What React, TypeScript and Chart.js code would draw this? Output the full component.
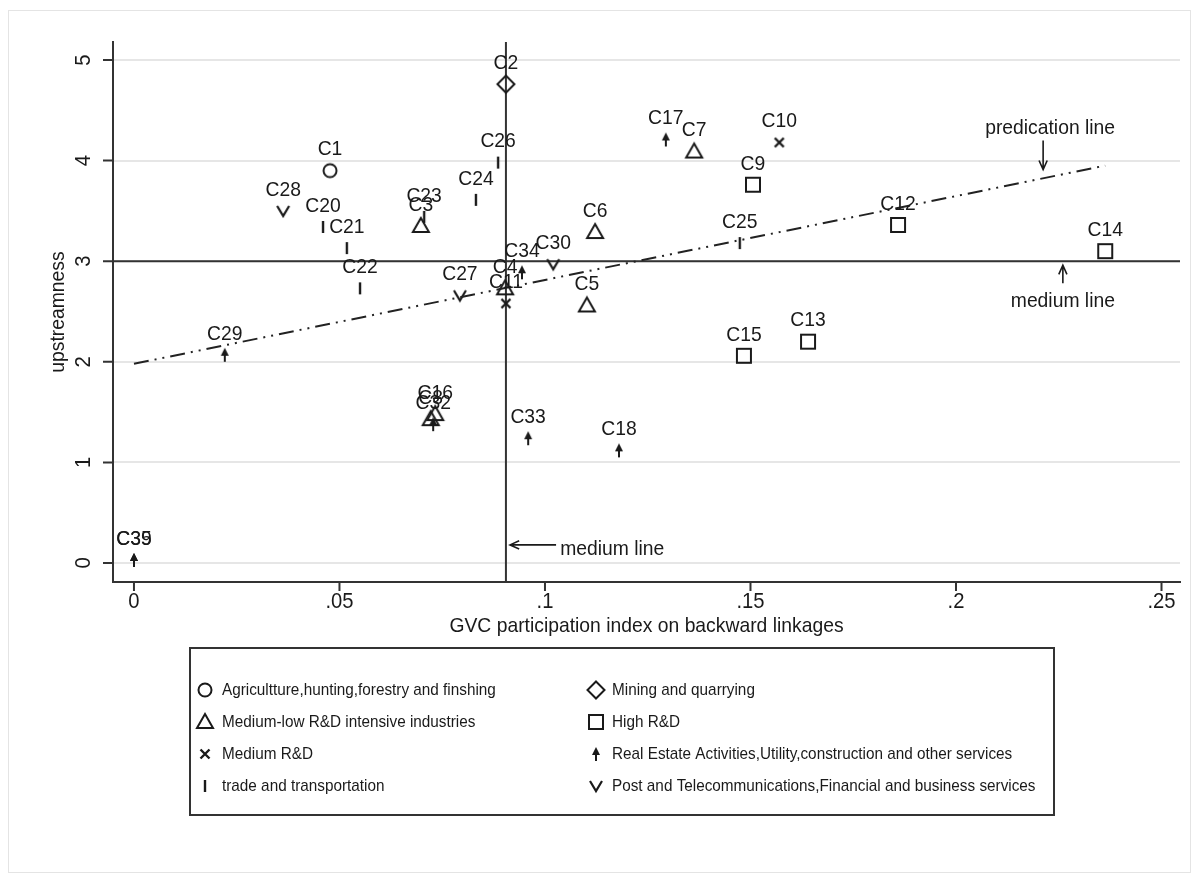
import React, { useEffect, useRef } from 'react';
import { Chart, registerables } from 'chart.js';

Chart.register(...registerables);

// ---------------- data ----------------
const agriLabels = ['C1'];
const agriX = [0.0477];
const agriY = [3.9];

const miningLabels = ['C2'];
const miningX = [0.0905];
const miningY = [4.76];

const medLowLabels = ['C3', 'C4', 'C5', 'C6', 'C7', 'C8', 'C16'];
const medLowX = [0.0698, 0.0903, 0.1102, 0.1122, 0.1363, 0.0722, 0.0733];
const medLowY = [3.35, 2.73, 2.56, 3.29, 4.09, 1.43, 1.48];

const highLabels = ['C9', 'C12', 'C13', 'C14', 'C15'];
const highX = [0.1506, 0.1859, 0.164, 0.2363, 0.1484];
const highY = [3.76, 3.36, 2.2, 3.1, 2.06];

const mediumLabels = ['C10', 'C11'];
const mediumXs = [0.157, 0.0905];
const mediumYs = [4.18, 2.58];

const realLabels = ['C17', 'C18', 'C29', 'C32', 'C33', 'C34', 'C35', 'C39'];
const realX = [0.1294, 0.118, 0.0221, 0.0728, 0.0959, 0.0944, 0, 0];
const realY = [4.21, 1.12, 2.07, 1.38, 1.24, 2.89, 0.03, 0.03];

const tradeLabels = ['C20', 'C21', 'C22', 'C23', 'C24', 'C25', 'C26'];
const tradeX = [0.046, 0.0518, 0.055, 0.0706, 0.0832, 0.1474, 0.0886];
const tradeY = [3.34, 3.13, 2.73, 3.44, 3.61, 3.18, 3.98];

const postLabels = ['C27', 'C28', 'C30'];
const postX = [0.0793, 0.0363, 0.102];
const postY = [2.66, 3.5, 2.97];

const predX = [0, 0.2363];
const predY = [1.98, 3.95];

const medianX = 0.0905;
const medianY = 3;

const xTicks = [0, 0.05, 0.1, 0.15, 0.2, 0.25];
const xTickLabels = ['0', '.05', '.1', '.15', '.2', '.25'];
const yTicks = [0, 1, 2, 3, 4, 5];
const yTickLabels = ['0', '1', '2', '3', '4', '5'];

const xTitle = 'GVC participation index on backward linkages';
const yTitle = 'upstreamness';

const legendNames = [
  'Agricultture,hunting,forestry and finshing',
  'Mining and quarrying',
  'Medium-low R&D intensive industries',
  'High R&D',
  'Medium R&D',
  'Real Estate Activities,Utility,construction and other services',
  'trade and transportation',
  'Post and Telecommunications,Financial and business services',
];
const legendKinds = ['circle', 'diamond', 'triangle', 'square', 'x', 'arrow', 'bar', 'v'];

// annotations: [text, textX, textY, arrowFromX, arrowFromY, arrowToX, arrowToY, align]
const annPred = ['predication line', 0.2229, 4.32, 0.2212, 4.2, 0.2212, 3.91, 'center'];
const annMedR = ['medium line', 0.226, 2.6, 0.226, 2.78, 0.226, 2.96, 'center'];
const annMedB = ['medium line', 0.1037, 0.14, 0.1027, 0.18, 0.0915, 0.18, 'left'];

// ---------------- drawing helpers ----------------
const INK = '#1a1a1a';
const FONT = '"Liberation Sans", Arial, sans-serif';

function drawMarker(ctx: CanvasRenderingContext2D, kind: string, cx: number, cy: number) {
  ctx.save();
  ctx.strokeStyle = INK;
  ctx.fillStyle = INK;
  ctx.lineWidth = 2;
  ctx.lineJoin = 'miter';
  ctx.beginPath();
  if (kind === 'circle') {
    ctx.arc(cx, cy, 6.5, 0, Math.PI * 2);
    ctx.stroke();
  } else if (kind === 'diamond') {
    ctx.moveTo(cx, cy - 8.5);
    ctx.lineTo(cx + 8.5, cy);
    ctx.lineTo(cx, cy + 8.5);
    ctx.lineTo(cx - 8.5, cy);
    ctx.closePath();
    ctx.stroke();
  } else if (kind === 'triangle') {
    ctx.moveTo(cx, cy - 8);
    ctx.lineTo(cx + 8, cy + 6);
    ctx.lineTo(cx - 8, cy + 6);
    ctx.closePath();
    ctx.stroke();
  } else if (kind === 'square') {
    ctx.rect(cx - 7, cy - 7, 14, 14);
    ctx.stroke();
  } else if (kind === 'x') {
    ctx.lineWidth = 2.4;
    ctx.moveTo(cx - 4.5, cy - 4.5);
    ctx.lineTo(cx + 4.5, cy + 4.5);
    ctx.moveTo(cx + 4.5, cy - 4.5);
    ctx.lineTo(cx - 4.5, cy + 4.5);
    ctx.stroke();
  } else if (kind === 'arrow') {
    ctx.moveTo(cx, cy - 7);
    ctx.lineTo(cx + 4, cy + 1);
    ctx.lineTo(cx - 4, cy + 1);
    ctx.closePath();
    ctx.fill();
    ctx.beginPath();
    ctx.lineWidth = 2;
    ctx.moveTo(cx, cy);
    ctx.lineTo(cx, cy + 7);
    ctx.stroke();
  } else if (kind === 'bar') {
    ctx.lineWidth = 2.4;
    ctx.moveTo(cx, cy - 6);
    ctx.lineTo(cx, cy + 6);
    ctx.stroke();
  } else if (kind === 'v') {
    ctx.lineWidth = 2.2;
    ctx.moveTo(cx - 6, cy - 5);
    ctx.lineTo(cx, cy + 5);
    ctx.lineTo(cx + 6, cy - 5);
    ctx.stroke();
  }
  ctx.restore();
}

function makeMarker(kind: string): HTMLCanvasElement {
  const c = document.createElement('canvas');
  c.width = 24;
  c.height = 24;
  const ctx = c.getContext('2d')!;
  drawMarker(ctx, kind, 12, 12);
  return c;
}

function txt(
  ctx: CanvasRenderingContext2D,
  s: string,
  x: number,
  y: number,
  size: number,
  align: CanvasTextAlign = 'center',
  rot = 0,
  sx = 0.92
) {
  ctx.save();
  ctx.translate(x, y);
  ctx.rotate(rot);
  ctx.scale(sx, 1);
  ctx.font = `${size}px ${FONT}`;
  ctx.textAlign = align;
  ctx.textBaseline = 'middle';
  ctx.fillStyle = INK;
  ctx.fillText(s, 0, 0);
  ctx.restore();
}

function arrow(ctx: CanvasRenderingContext2D, x1: number, y1: number, x2: number, y2: number) {
  const a = Math.atan2(y2 - y1, x2 - x1);
  const L = 10;
  const w = 0.42;
  ctx.save();
  ctx.strokeStyle = INK;
  ctx.lineWidth = 1.6;
  ctx.beginPath();
  ctx.moveTo(x1, y1);
  ctx.lineTo(x2, y2);
  ctx.moveTo(x2 - L * Math.cos(a - w), y2 - L * Math.sin(a - w));
  ctx.lineTo(x2, y2);
  ctx.lineTo(x2 - L * Math.cos(a + w), y2 - L * Math.sin(a + w));
  ctx.stroke();
  ctx.restore();
}

const pts = (xs: number[], ys: number[]) => xs.map((x, i) => ({ x, y: ys[i] }));

const decorPlugin = {
  id: 'decor',
  beforeDatasetsDraw(chart: any) {
    const { ctx, chartArea: ca, scales } = chart;
    const px = scales.x.getPixelForValue(medianX);
    const py = scales.y.getPixelForValue(medianY);
    ctx.save();
    ctx.strokeStyle = '#333';
    ctx.lineWidth = 2;
    ctx.beginPath();
    ctx.moveTo(ca.left, py);
    ctx.lineTo(ca.right, py);
    ctx.moveTo(px, ca.top);
    ctx.lineTo(px, ca.bottom);
    ctx.stroke();
    ctx.restore();
  },
  afterDraw(chart: any) {
    const { ctx, chartArea: ca, scales } = chart;
    const xs = scales.x;
    const ys = scales.y;
    ctx.save();
    // outer frame
    ctx.strokeStyle = '#e4e4e4';
    ctx.lineWidth = 1;
    ctx.strokeRect(8.5, 10.5, 1182, 862);

    // ticks
    ctx.strokeStyle = '#333';
    ctx.lineWidth = 2;
    ctx.beginPath();
    xTicks.forEach((v) => {
      const p = xs.getPixelForValue(v);
      ctx.moveTo(p, ca.bottom);
      ctx.lineTo(p, ca.bottom + 9);
    });
    yTicks.forEach((v) => {
      const p = ys.getPixelForValue(v);
      ctx.moveTo(ca.left - 10, p);
      ctx.lineTo(ca.left, p);
    });
    ctx.stroke();
    xTicks.forEach((v, i) => txt(ctx, xTickLabels[i], xs.getPixelForValue(v), ca.bottom + 20, 22));
    yTicks.forEach((v, i) => txt(ctx, yTickLabels[i], ca.left - 29, ys.getPixelForValue(v), 22, 'center', -Math.PI / 2));

    // axis titles
    txt(ctx, xTitle, (ca.left + ca.right) / 2, ca.bottom + 44, 21);
    txt(ctx, yTitle, ca.left - 55, (ca.top + ca.bottom) / 2, 21, 'center', -Math.PI / 2);

    // point labels
    chart.data.datasets.forEach((ds: any, di: number) => {
      if (!ds.pointLabels) return;
      const meta = chart.getDatasetMeta(di);
      meta.data.forEach((el: any, j: number) => {
        txt(ctx, ds.pointLabels[j], el.x, el.y - 21, 21);
      });
    });

    // annotations
    [annPred, annMedR, annMedB].forEach((a: any[]) => {
      txt(ctx, a[0], xs.getPixelForValue(a[1]), ys.getPixelForValue(a[2]), 21, a[7]);
      arrow(ctx, xs.getPixelForValue(a[3]), ys.getPixelForValue(a[4]), xs.getPixelForValue(a[5]), ys.getPixelForValue(a[6]));
    });

    // legend box
    const bx = 190, by = 648, bw = 864, bh = 167;
    ctx.strokeStyle = '#333';
    ctx.lineWidth = 2;
    ctx.strokeRect(bx, by, bw, bh);
    const rowY = [690, 722, 754, 786];
    const colSym = [205, 596];
    const colTxt = [222, 612];
    legendNames.forEach((name, i) => {
      const r = Math.floor(i / 2);
      const c = i % 2;
      drawMarker(ctx, legendKinds[i], colSym[c], rowY[r]);
      txt(ctx, name, colTxt[c], rowY[r], 17, 'left', 0, 0.9);
    });
    ctx.restore();
  },
};

export default function App() {
  const ref = useRef<HTMLCanvasElement | null>(null);
  useEffect(() => {
    if (!ref.current) return;
    const mk = (label: string, kind: string, labels: string[], xs: number[], ys: number[]) => ({
      type: 'scatter' as const,
      label,
      data: pts(xs, ys),
      pointLabels: labels,
      pointStyle: makeMarker(kind),
      pointRadius: 8,
      pointHoverRadius: 8,
      showLine: false,
    });
    const chart = new Chart(ref.current, {
      type: 'scatter',
      data: {
        datasets: [
          {
            type: 'line',
            label: 'prediction',
            data: pts(predX, predY),
            borderColor: '#222',
            borderWidth: 2,
            borderDash: [15, 6, 2, 6, 2, 6],
            pointRadius: 0,
            fill: false,
          } as any,
          mk(legendNames[0], 'circle', agriLabels, agriX, agriY),
          mk(legendNames[1], 'diamond', miningLabels, miningX, miningY),
          mk(legendNames[2], 'triangle', medLowLabels, medLowX, medLowY),
          mk(legendNames[3], 'square', highLabels, highX, highY),
          mk(legendNames[4], 'x', mediumLabels, mediumXs, mediumYs),
          mk(legendNames[5], 'arrow', realLabels, realX, realY),
          mk(legendNames[6], 'bar', tradeLabels, tradeX, tradeY),
          mk(legendNames[7], 'v', postLabels, postX, postY),
        ],
      },
      options: {
        responsive: false,
        animation: false,
        layout: { padding: { left: 113, right: 18, top: 42, bottom: 294 } },
        plugins: { legend: { display: false }, tooltip: { enabled: false } },
        scales: {
          x: {
            type: 'linear',
            min: -0.0051,
            max: 0.2545,
            grid: { display: false, drawTicks: false },
            border: { display: true, color: '#333', width: 2 },
            ticks: { display: false },
          },
          y: {
            type: 'linear',
            min: -0.189,
            max: 5.179,
            grid: { display: true, color: '#e6e6e6', lineWidth: 2, drawTicks: false },
            border: { display: true, color: '#333', width: 2 },
            ticks: { display: false },
            afterBuildTicks: (s: any) => {
              s.ticks = yTicks.map((v) => ({ value: v }));
            },
          },
        },
      } as any,
      plugins: [decorPlugin],
    });
    return () => chart.destroy();
  }, []);
  return (
    <div style={{ position: 'absolute', left: 0, top: 0, width: 1198, height: 876, background: '#fff' }}>
      <canvas ref={ref} width={1198} height={876} style={{ display: 'block' }} />
    </div>
  );
}
